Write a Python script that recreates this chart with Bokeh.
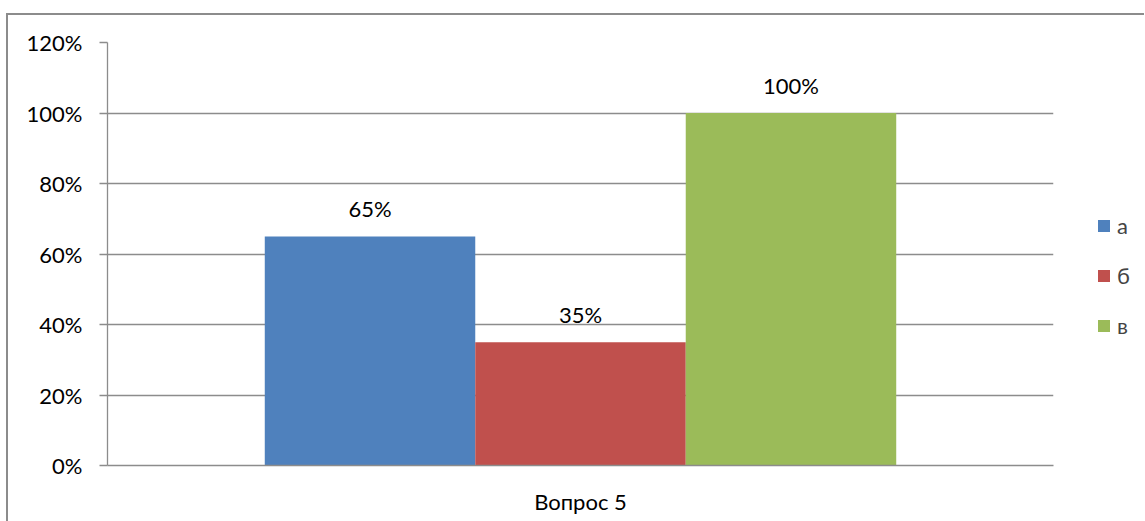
from bokeh.plotting import figure
from bokeh.layouts import row
from bokeh.models import ColumnDataSource, Legend, LegendItem, NumeralTickFormatter, FixedTicker, FactorRange
from bokeh.transform import dodge
from bokeh.core.properties import value
from bokeh.embed import file_html
from bokeh.resources import INLINE

categories = ["Вопрос 5"]
series = ["а", "б", "в"]
values = [0.65, 0.35, 1.00]
labels = ["65%", "35%", "100%"]
colors = ["#4F81BD", "#C0504D", "#9BBB59"]
y_ticks = [0, 0.2, 0.4, 0.6, 0.8, 1.0, 1.2]

FONT = "Lato"
FS = "22px"

p = figure(x_range=FactorRange(*categories), y_range=(0, 1.2),
           width=1055, height=506, output_backend="svg", toolbar_location=None,
           min_border_left=99, min_border_right=10, min_border_top=27, min_border_bottom=56)
p.outline_line_color = None

bw = 0.2225
offsets = [-bw, 0.0, bw]
for s, v, lab, c, off in zip(series, values, labels, colors, offsets):
    src = ColumnDataSource(dict(x=categories, top=[v], lab=[lab]))
    p.vbar(x=dodge("x", off, range=p.x_range), top="top", width=bw, source=src,
           fill_color=c, line_color=None)
    p.text(x=dodge("x", off, range=p.x_range), y="top", text="lab", source=src,
           text_align="center", text_baseline="alphabetic", y_offset=-28,
           text_font=value(FONT), text_font_size=FS, text_color="#000000")

# grid
p.xgrid.grid_line_color = None
p.ygrid.grid_line_color = "#8c8c8c"
p.ygrid.grid_line_width = 1.3
p.ygrid.ticker = FixedTicker(ticks=y_ticks)

# y axis
p.yaxis.ticker = FixedTicker(ticks=y_ticks)
p.yaxis.formatter = NumeralTickFormatter(format="0%")
p.yaxis.axis_line_color = "#8c8c8c"
p.yaxis.axis_line_width = 1.3
p.yaxis.major_tick_line_color = "#8c8c8c"
p.yaxis.major_tick_line_width = 1.3
p.yaxis.major_tick_out = 8
p.yaxis.major_tick_in = 0
p.yaxis.minor_tick_line_color = None
p.yaxis.major_label_standoff = 17
p.yaxis.major_label_text_font = FONT
p.yaxis.major_label_text_font_size = FS
p.yaxis.major_label_text_color = "#000000"

# x axis
p.xaxis.axis_line_color = "#8c8c8c"
p.xaxis.axis_line_width = 1.3
p.xaxis.major_tick_line_color = None
p.xaxis.major_tick_out = 0
p.xaxis.major_tick_in = 0
p.xaxis.minor_tick_line_color = None
p.xaxis.major_label_standoff = 22
p.xaxis.major_label_text_font = FONT
p.xaxis.major_label_text_font_size = FS
p.xaxis.major_label_text_color = "#000000"

# legend figure (swatch glyphs lie outside the visible range)
lf = figure(width=81, height=506, x_range=(0, 1), y_range=(0, 1),
            output_backend="svg", toolbar_location=None,
            min_border_left=0, min_border_right=0, min_border_top=0, min_border_bottom=0)
lf.axis.visible = False
lf.grid.visible = False
lf.outline_line_color = None
items = []
for s, c in zip(series, colors):
    src = ColumnDataSource(dict(left=[5], right=[6], bottom=[5], top=[6]))
    r = lf.quad(left="left", right="right", bottom="bottom", top="top", source=src,
                fill_color=c, line_color=None)
    items.append(LegendItem(label=s, renderers=[r]))
legend = Legend(items=items, location=(33, 126), orientation="vertical",
                glyph_width=15, glyph_height=15, label_standoff=6, spacing=23,
                padding=0, margin=0, border_line_color=None, background_fill_alpha=0,
                label_text_font=FONT, label_text_font_size=FS, label_height=24)
lf.add_layout(legend)

layout = row(p, lf, spacing=0)
layout.styles = {"border-left": "2px solid #8c8c8c", "border-top": "2px solid #8c8c8c",
                 "margin-left": "6px", "margin-top": "13px"}

open("out.html", "w").write(file_html(layout, INLINE))
